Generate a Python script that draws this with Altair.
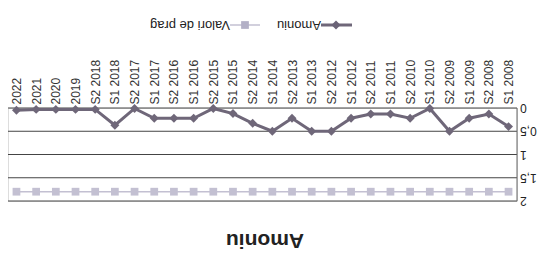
import altair as alt
import pandas as pd

periods = ["S1 2008", "S2 2008", "S1 2009", "S2 2009", "S1 2010", "S2 2010",
           "S1 2011", "S2 2011", "S1 2012", "S2 2012", "S1 2013", "S2 2013",
           "S1 2014", "S2 2014", "S1 2015", "S2 2015", "S1 2016", "S2 2016",
           "S1 2017", "S2 2017", "S1 2018", "S2 2018", "2019", "2020", "2021", "2022"]
amoniu = [0.40, 0.13, 0.22, 0.50, 0.01, 0.22,
          0.13, 0.13, 0.22, 0.50, 0.50, 0.22,
          0.50, 0.33, 0.12, 0.01, 0.22, 0.22,
          0.22, 0.01, 0.37, 0.03, 0.03, 0.03, 0.03, 0.05]
prag = [1.8] * len(periods)
series_names = ["Amoniu", "Valori de prag"]
y_ticks = [0, 0.5, 1, 1.5, 2]
y_tick_labels = ["0", "0,5", "1", "1,5", "2"]
chart_title = "Amoniu"

rows = []
for p, a, t in zip(periods, amoniu, prag):
    rows.append({"period": p, "value": a, "series": series_names[0]})
    rows.append({"period": p, "value": t, "series": series_names[1]})
df = pd.DataFrame(rows)
ticks_df = pd.DataFrame({"value": y_ticks, "label": y_tick_labels})

FONT = "Liberation Sans"
colors = ["#6f6779", "#c3c0d2"]
pt_colors = ["#6a6276", "#b3b0c6"]

x_enc = alt.X("period:N", sort=periods,
              scale=alt.Scale(type="point", padding=0.43, reverse=True),
              axis=alt.Axis(orient="top", labelAngle=270, labelAlign="left",
                            labelBaseline="middle", ticks=False, domain=False,
                            labelPadding=4, title=None, labelFont=FONT,
                            labelFontSize=12, labelColor="#333333", grid=False,
                            labelOverlap=False))
y_scale = alt.Scale(domain=[0, 2], reverse=True, nice=False, zero=False)

grid = alt.Chart(ticks_df).mark_rule(color="#444444", strokeWidth=1).encode(
    y=alt.Y("value:Q", scale=y_scale, axis=None)
)
# right border (rotated y-axis line)
border = alt.Chart(ticks_df).mark_rule(color="#666666", strokeWidth=1).encode(
    x=alt.value(509), y=alt.Y("min(value):Q", scale=y_scale, axis=None),
    y2=alt.Y2("max(value):Q")
)
# upside-down y tick labels
tick_labels = alt.Chart(ticks_df).mark_text(
    angle=180, align="right", baseline="middle", font=FONT, fontSize=12, color="#222222"
).encode(x=alt.value(512), y=alt.Y("value:Q", scale=y_scale, axis=None), text="label:N")

base = alt.Chart(df)
lines = base.mark_line().encode(
    x=x_enc, y=alt.Y("value:Q", scale=y_scale, axis=None),
    color=alt.Color("series:N", scale=alt.Scale(domain=series_names, range=colors), legend=None),
    strokeWidth=alt.StrokeWidth("series:N", scale=alt.Scale(domain=series_names, range=[3, 1.5]), legend=None),
)
points = base.mark_point(filled=True, opacity=1).encode(
    x=alt.X("period:N", sort=periods), y=alt.Y("value:Q", axis=None),
    color=alt.Color("series:N", scale=alt.Scale(domain=series_names, range=pt_colors), legend=None),
    shape=alt.Shape("series:N", scale=alt.Scale(domain=series_names, range=["diamond", "square"]), legend=None),
    size=alt.Size("series:N", scale=alt.Scale(domain=series_names, range=[80, 60]), legend=None),
)

# upside-down title
title_mark = alt.Chart(pd.DataFrame({"t": [chart_title]})).mark_text(
    angle=180, align="center", baseline="middle", font=FONT,
    fontSize=21, fontWeight="bold", color="#222222"
).encode(text="t:N", x=alt.value(257), y=alt.value(132))

# upside-down legend
leg_text_a = alt.Chart(pd.DataFrame({"t": [series_names[0]]})).mark_text(
    angle=180, align="center", baseline="middle", font=FONT, fontSize=13, color="#222222"
).encode(text="t:N", x=alt.value(291), y=alt.value(-83))
leg_text_b = alt.Chart(pd.DataFrame({"t": [series_names[1]]})).mark_text(
    angle=180, align="center", baseline="middle", font=FONT, fontSize=13, color="#222222"
).encode(text="t:N", x=alt.value(182), y=alt.value(-83))
leg_line_a = alt.Chart(pd.DataFrame({"t": [series_names[0]]})).mark_rule(
    color=colors[0], strokeWidth=3
).encode(x=alt.value(313), x2=alt.value(344), y=alt.value(-83))
leg_line_b = alt.Chart(pd.DataFrame({"t": [series_names[1]]})).mark_rule(
    color=colors[1], strokeWidth=1.5
).encode(x=alt.value(222), x2=alt.value(252), y=alt.value(-83))
leg_pt_a = alt.Chart(pd.DataFrame({"t": [series_names[0]]})).mark_point(
    shape="diamond", filled=True, opacity=1, color=pt_colors[0], size=80
).encode(x=alt.value(328), y=alt.value(-83))
leg_pt_b = alt.Chart(pd.DataFrame({"t": [series_names[1]]})).mark_point(
    shape="square", filled=True, opacity=1, color=pt_colors[1], size=60
).encode(x=alt.value(237), y=alt.value(-83))

chart = alt.layer(
    grid, border, tick_labels, lines, points, title_mark,
    leg_line_a, leg_line_b, leg_pt_a, leg_pt_b, leg_text_a, leg_text_b
).properties(
    width=509, height=93,
    autosize=alt.AutoSizeParams(type="none"),
    padding={"left": 0, "top": 100, "right": 23, "bottom": 51},
).configure_view(stroke=None).configure(background="white")

chart.save("out.html", embed_options={"renderer": "svg", "actions": False})
